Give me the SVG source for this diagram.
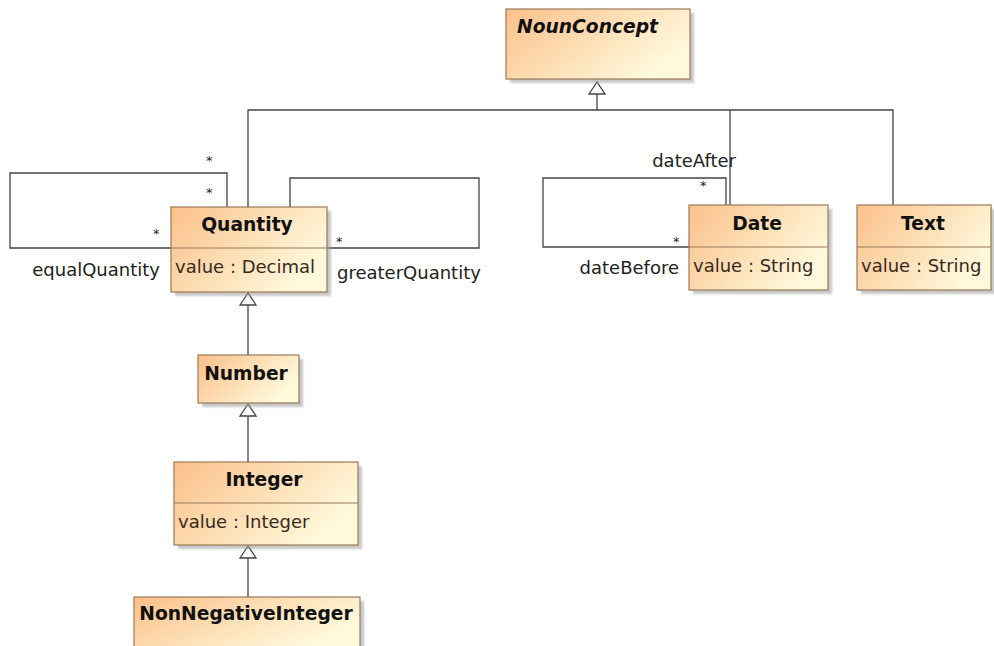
<svg xmlns="http://www.w3.org/2000/svg" width="994" height="646" viewBox="0 0 994 646">
  <style>
    .box { fill: url(#classFill); stroke: #9a7a58; stroke-width: 1.2; }
    .shadow { fill: #9a9a9a; opacity: 0.55; filter: url(#soft); }
    .div { stroke: #9a7a58; stroke-width: 1.2; }
    .title { font-family: "DejaVu Sans", Verdana, sans-serif; font-weight: bold; font-size: 18.7px; fill: #111; }
    .attr { font-family: "DejaVu Sans", Verdana, sans-serif; font-size: 18px; fill: #3a2a20; }
    .role { font-family: "DejaVu Sans", Verdana, sans-serif; font-size: 18px; fill: #222; }
    .mult { font-family: "DejaVu Sans", Verdana, sans-serif; font-size: 13px; fill: #222; }
    .edge { fill: none; stroke: #444; stroke-width: 1.3; }
    .gen { fill: #fff; stroke: #444; stroke-width: 1.3; }
  </style>
  <defs>
    <linearGradient id="classFill" x1="0" y1="0" x2="1" y2="0.5">
      <stop offset="0" stop-color="#fbc08a"/>
      <stop offset="1" stop-color="#fff9db"/>
    </linearGradient>
    <filter id="soft" x="-10%" y="-10%" width="120%" height="120%">
      <feGaussianBlur stdDeviation="1.2"/>
    </filter>
  </defs>
  <rect width="994" height="646" fill="#fff"/>

  <!-- connectors -->
  <g id="connectors">
    <!-- generalization bus to NounConcept -->
    <polyline class="edge" points="248,207 248,110 893,110 893,205"/>
    <line class="edge" x1="597" y1="94" x2="597" y2="110"/>
    <line class="edge" x1="730" y1="110" x2="730" y2="205"/>
    <polygon class="gen" points="597,82 589,94 605,94"/>
    <!-- Quantity <- Number -->
    <line class="edge" x1="248" y1="305" x2="248" y2="355"/>
    <polygon class="gen" points="248,293 240,305 256,305"/>
    <!-- Number <- Integer -->
    <line class="edge" x1="248" y1="416" x2="248" y2="462"/>
    <polygon class="gen" points="248,404 240,416 256,416"/>
    <!-- Integer <- NonNegativeInteger -->
    <line class="edge" x1="248" y1="558" x2="248" y2="597"/>
    <polygon class="gen" points="248,546 240,558 256,558"/>
    <!-- equalQuantity self association -->
    <polyline class="edge" points="227,207 227,173 10,173 10,248 171,248"/>
    <!-- greaterQuantity self association -->
    <polyline class="edge" points="290,207 290,178 479,178 479,248 327,248"/>
    <!-- dateBefore / dateAfter self association -->
    <polyline class="edge" points="726,205 726,178 543,178 543,247 689,247"/>

    <text class="mult" x="206" y="165">*</text>
    <text class="mult" x="206" y="197">*</text>
    <text class="mult" x="153" y="238">*</text>
    <text class="mult" x="336" y="246">*</text>
    <text class="mult" x="700" y="190">*</text>
    <text class="mult" x="673" y="246">*</text>
    <text class="role" x="160" y="276" text-anchor="end">equalQuantity</text>
    <text class="role" x="337" y="279">greaterQuantity</text>
    <text class="role" x="736" y="167" text-anchor="end">dateAfter</text>
    <text class="role" x="679" y="274" text-anchor="end">dateBefore</text>
  </g>

  <g id="NounConcept">
    <rect class="shadow" x="510" y="13" width="184" height="70"/>
    <rect class="box" x="506" y="9" width="184" height="70"/>
    <text class="title" x="517" y="33" font-style="italic">NounConcept</text>
  </g>

  <g id="Quantity">
    <rect class="shadow" x="175" y="211" width="156" height="85"/>
    <rect class="box" x="171" y="207" width="156" height="85"/>
    <line class="div" x1="171" y1="248" x2="327" y2="248"/>
    <text class="title" x="247" y="231" text-anchor="middle">Quantity</text>
    <text class="attr" x="175" y="273">value : Decimal</text>
  </g>

  <g id="Date">
    <rect class="shadow" x="693" y="209" width="139" height="85"/>
    <rect class="box" x="689" y="205" width="139" height="85"/>
    <line class="div" x1="689" y1="247" x2="828" y2="247"/>
    <text class="title" x="757" y="230" text-anchor="middle">Date</text>
    <text class="attr" x="693" y="272">value : String</text>
  </g>

  <g id="Text">
    <rect class="shadow" x="861" y="209" width="134" height="85"/>
    <rect class="box" x="857" y="205" width="134" height="85"/>
    <line class="div" x1="857" y1="247" x2="991" y2="247"/>
    <text class="title" x="923" y="230" text-anchor="middle">Text</text>
    <text class="attr" x="861" y="272">value : String</text>
  </g>

  <g id="Number">
    <rect class="shadow" x="202" y="359" width="101" height="48"/>
    <rect class="box" x="198" y="355" width="101" height="48"/>
    <text class="title" x="246" y="380" text-anchor="middle">Number</text>
  </g>

  <g id="Integer">
    <rect class="shadow" x="178" y="466" width="184" height="83"/>
    <rect class="box" x="174" y="462" width="184" height="83"/>
    <line class="div" x1="174" y1="503" x2="358" y2="503"/>
    <text class="title" x="264" y="486" text-anchor="middle">Integer</text>
    <text class="attr" x="178" y="528">value : Integer</text>
  </g>

  <g id="NonNegativeInteger">
    <rect class="shadow" x="138" y="601" width="226" height="50"/>
    <rect class="box" x="134" y="597" width="226" height="50"/>
    <text class="title" x="246" y="620" text-anchor="middle">NonNegativeInteger</text>
  </g>
</svg>
